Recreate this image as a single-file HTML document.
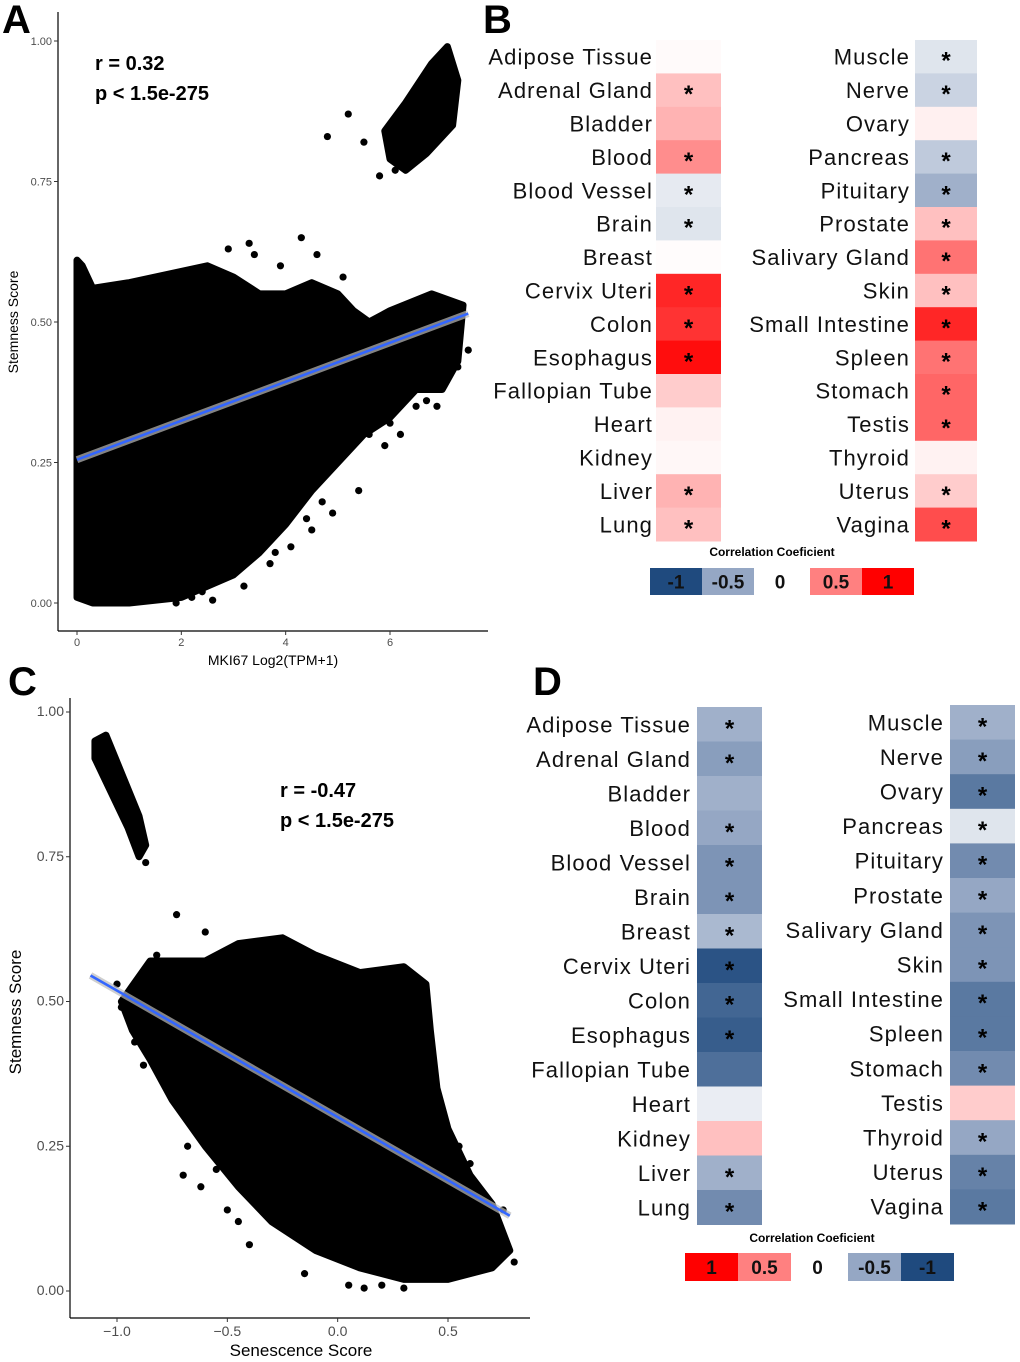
<!DOCTYPE html>
<html><head><meta charset="utf-8"><style>
body{margin:0;background:#fff;}
svg{display:block;font-family:"Liberation Sans",sans-serif;}
</style></head><body>
<svg id="fig" width="1020" height="1362" viewBox="0 0 1020 1362" xmlns="http://www.w3.org/2000/svg">
<text x="2" y="33" font-size="40" font-weight="bold">A</text>
<text x="483" y="33" font-size="40" font-weight="bold">B</text>
<text x="8" y="695" font-size="40" font-weight="bold">C</text>
<text x="533" y="695" font-size="40" font-weight="bold">D</text>
<g id="pa"></g>
<g id="pc"></g>
<g id="hb"></g>
<g id="hd"></g>
</svg>
<script>
// ---------- data: panel A ----------
const aXTicks=[0,2,4,6];
const aYTicks=[0,0.25,0.5,0.75,1];
const aCloudX=[0,0.1,0.3,1,1.5,2.5,3,3.5,4,4.5,5,5.3,5.6,6,6.8,7.4,7.3,7,6.5,6,5.5,5,4.5,4,3.5,3,2.5,2,1,0.3,0];
const aCloudY=[0.61,0.6,0.56,0.57,0.58,0.6,0.58,0.55,0.55,0.57,0.55,0.52,0.5,0.52,0.55,0.53,0.43,0.38,0.38,0.33,0.3,0.25,0.2,0.14,0.09,0.05,0.03,0.01,0.0,0.0,0.01];
const aTopX=[5.9,6.3,6.8,7.1,7.3,7.2,6.7,6.3,6.0];
const aTopY=[0.84,0.89,0.96,0.99,0.93,0.85,0.8,0.77,0.79];
const aOutX=[5.5,4.8,5.2,3.3,4.3,3.4,7.5,2.6,3.7,4.5,5.6,6,6.5,3.6,5.4,4.9,6.2,3.9,4.6,5.1,2.9,4.1,6.9,7.1,5.8,6.1,4.4,3.8,2.2,1.9,3.2,4.7,5.9,6.7,7.3,2.4];
const aOutY=[0.82,0.83,0.87,0.64,0.65,0.62,0.45,0.005,0.07,0.13,0.3,0.32,0.35,0.11,0.2,0.16,0.3,0.6,0.62,0.58,0.63,0.1,0.35,0.4,0.76,0.77,0.15,0.09,0.01,0.0,0.03,0.18,0.28,0.36,0.42,0.02];
const aFit=[0,0.255,7.5,0.515];
// ---------- data: panel C ----------
const cXTicks=[-1,-0.5,0,0.5];
const cXTickLabels=["\u22121.0","\u22120.5","0.0","0.5"];
const cYTicks=[0,0.25,0.5,0.75,1];
const cCloudX=[-0.98,-0.85,-0.6,-0.45,-0.25,-0.1,0.1,0.3,0.4,0.42,0.45,0.5,0.6,0.7,0.78,0.7,0.5,0.3,0.1,-0.1,-0.3,-0.45,-0.6,-0.75,-0.85,-0.93];
const cCloudY=[0.5,0.57,0.57,0.6,0.61,0.58,0.55,0.56,0.53,0.45,0.35,0.28,0.2,0.15,0.07,0.04,0.02,0.02,0.04,0.07,0.12,0.18,0.25,0.33,0.4,0.45];
const cTopX=[-1.1,-1.05,-0.9,-0.87,-0.9,-0.95,-1.05,-1.1];
const cTopY=[0.95,0.96,0.82,0.77,0.75,0.8,0.88,0.92];
const cOutX=[-0.87,-0.73,-0.6,-0.98,-1.0,0.5,0.8,-0.15,0.05,0.12,0.5,0.75,-0.82,-0.7,0.65,0.72,-0.4,0.55,-0.68,-0.62,-0.55,-0.5,-0.45,-0.88,-0.92,0.6,0.72,0.3,0.2];
const cOutY=[0.74,0.65,0.62,0.49,0.53,0.23,0.05,0.03,0.01,0.005,0.2,0.14,0.58,0.2,0.17,0.1,0.08,0.25,0.25,0.18,0.21,0.14,0.12,0.39,0.43,0.22,0.12,0.005,0.01];
const cFit=[-1.12,0.545,0.78,0.13];
// ---------- data: heatmaps ----------
const leftTissues=["Adipose Tissue","Adrenal Gland","Bladder","Blood","Blood Vessel","Brain","Breast","Cervix Uteri","Colon","Esophagus","Fallopian Tube","Heart","Kidney","Liver","Lung"];
const rightTissues=["Muscle","Nerve","Ovary","Pancreas","Pituitary","Prostate","Salivary Gland","Skin","Small Intestine","Spleen","Stomach","Testis","Thyroid","Uterus","Vagina"];
const bLeftVals=[0.02,0.25,0.3,0.45,-0.12,-0.15,0.01,0.85,0.8,0.95,0.2,0.05,0.03,0.3,0.25];
const bLeftSig=[0,1,0,1,1,1,0,1,1,1,0,0,0,1,1];
const bRightVals=[-0.15,-0.25,0.06,-0.3,-0.45,0.25,0.55,0.25,0.85,0.55,0.6,0.6,0.05,0.2,0.7];
const bRightSig=[1,1,0,1,1,1,1,1,1,1,1,1,0,1,1];
const dLeftVals=[-0.45,-0.55,-0.45,-0.5,-0.6,-0.6,-0.4,-0.95,-0.85,-0.9,-0.8,-0.1,0.25,-0.45,-0.65];
const dLeftSig=[1,1,0,1,1,1,1,1,1,1,0,0,0,1,1];
const dRightVals=[-0.45,-0.55,-0.75,-0.15,-0.65,-0.5,-0.6,-0.6,-0.75,-0.75,-0.65,0.2,-0.5,-0.7,-0.75];
const dRightSig=[1,1,1,1,1,1,1,1,1,1,1,0,1,1,1];
const bLegend=[-1,-0.5,0,0.5,1];
const dLegend=[1,0.5,0,-0.5,-1];

const NS="http://www.w3.org/2000/svg";
function el(tag,attrs,parent,txt){const e=document.createElementNS(NS,tag);for(const k in attrs)e.setAttribute(k,attrs[k]);if(txt!==undefined)e.textContent=txt;parent.appendChild(e);return e;}
function lin(d0,d1,r0,r1){return v=>r0+(v-d0)*(r1-r0)/(d1-d0);}
function mix(a,b,t){return a.map((v,i)=>Math.round(v+(b[i]-v)*t));}
function corrColor(v){
  const W=[255,255,255],LB=[149,167,196],DB=[31,74,126],LR=[255,128,128],R=[255,0,0];
  let c;
  if(v>=0){c=v<=0.5?mix(W,LR,v/0.5):mix(LR,R,(v-0.5)/0.5);}
  else{const a=-v;c=a<=0.5?mix(W,LB,a/0.5):mix(LB,DB,(a-0.5)/0.5);}
  return "rgb("+c.join(",")+")";
}

function scatter(g,cfg){
  const sx=lin(cfg.xd[0],cfg.xd[1],cfg.xr[0],cfg.xr[1]);
  const sy=lin(0,1,cfg.y0,cfg.y1);
  let ax=el("line",{x1:cfg.axX,y1:cfg.axTop,x2:cfg.axX,y2:cfg.axY,stroke:"#000","stroke-width":1.2},g);
  
  
  let bx=el("line",{x1:cfg.axX,y1:cfg.axY,x2:cfg.axRight,y2:cfg.axY,stroke:"#000","stroke-width":1.2},g);
  
  
  cfg.yTicks.forEach(t=>{
    const y=sy(t);
    el("line",{x1:cfg.axX-4,y1:y,x2:cfg.axX,y2:y,stroke:"#333"},g);
    const tl=el("text",{x:cfg.axX-6,y:y+4,"text-anchor":"end","font-size":cfg.tfs,fill:"#4d4d4d"},g,t.toFixed(2));
    
    
  });
  cfg.xTicks.forEach((t,i)=>{
    const x=sx(t);
    el("line",{x1:x,y1:cfg.axY,x2:x,y2:cfg.axY+4,stroke:"#333"},g);
    const tl=el("text",{x:x,y:cfg.axY+cfg.tfs+4,"text-anchor":"middle","font-size":cfg.tfs,fill:"#4d4d4d"},g,cfg.xLabels[i]);
    
    
  });
  [[cfg.cx,cfg.cy],[cfg.tx,cfg.ty]].forEach(([xs,ys])=>{
    const pts=xs.map((x,i)=>sx(x)+","+sy(ys[i])).join(" ");
    const p=el("polygon",{points:pts,fill:"#000",stroke:"#000","stroke-width":7,"stroke-linejoin":"round"},g);
    
    
  });
  cfg.ox.forEach((x,i)=>{
    const c=el("circle",{cx:sx(x),cy:sy(cfg.oy[i]),r:3.6,fill:"#000"},g);
    
    
  });
  const f=cfg.fit;
  el("line",{x1:sx(f[0]),y1:sy(f[1]),x2:sx(f[2]),y2:sy(f[3]),stroke:"#bbb","stroke-width":7,"stroke-opacity":0.7},g);
  const fl=el("line",{x1:sx(f[0]),y1:sy(f[1]),x2:sx(f[2]),y2:sy(f[3]),stroke:"#3366ff","stroke-width":2.6},g);
  
  
  const xt=el("text",{x:cfg.xtX,y:cfg.xtY,"text-anchor":"middle","font-size":cfg.lfs},g,cfg.xTitle);
  
  
  const yt=el("text",{x:0,y:0,"text-anchor":"middle","font-size":cfg.lfs,transform:"translate("+cfg.ytX+","+cfg.ytY+") rotate(-90)"},g,"Stemness Score");
  
  
  cfg.stats.forEach((s,i)=>{
    const t=el("text",{x:cfg.stX,y:cfg.stY+i*30,"font-size":20,"font-weight":"bold"},g,s);
    
    
  });
}

scatter(document.getElementById("pa"),{xd:[0,6],xr:[77,390],y0:603,y1:41,axX:58,axTop:12,axY:631,axRight:488,
  xTicks:aXTicks,xLabels:aXTicks.map(String),yTicks:aYTicks,tfs:11,lfs:14,
  cx:aCloudX,cy:aCloudY,tx:aTopX,ty:aTopY,ox:aOutX,oy:aOutY,fit:aFit,
  xTitle:"MKI67 Log2(TPM+1)",xtX:273,xtY:665,ytX:18,ytY:322,stats:["r = 0.32","p < 1.5e-275"],stX:95,stY:70});
scatter(document.getElementById("pc"),{xd:[-1,0.5],xr:[117,448],y0:1291,y1:712,axX:70,axTop:698,axY:1318,axRight:530,
  xTicks:cXTicks,xLabels:cXTickLabels,yTicks:cYTicks,tfs:14,lfs:17,
  cx:cCloudX,cy:cCloudY,tx:cTopX,ty:cTopY,ox:cOutX,oy:cOutY,fit:cFit,
  xTitle:"Senescence Score",xtX:301,xtY:1356,ytX:21,ytY:1012,stats:["r = -0.47","p < 1.5e-275"],stX:280,stY:797});

function heatCol(g,names,vals,sig,x0,w,y0,h,labelX){
  names.forEach((n,i)=>{
    const y=y0+i*h;
    const r=el("rect",{x:x0,y:y,width:w,height:h+0.5,fill:corrColor(vals[i])},g);
    
    
    const t=el("text",{x:labelX,y:y+h/2+8,"text-anchor":"end","font-size":22,"letter-spacing":"1.1",fill:"#111"},g,n);
    
    
    if(sig[i]){
      const s=el("text",{x:x0+w/2,y:y+h/2+12,"text-anchor":"middle","font-size":24,"font-weight":"bold"},g,"*");
      
      
    }
  });
}
function legend(g,vals,x0,w,y,h,titleX,titleY){
  const t=el("text",{x:titleX,y:titleY,"text-anchor":"middle","font-size":12,"font-weight":"bold"},g,"Correlation Coeficient");
  
  
  let x=x0;
  vals.forEach(v=>{
    const lbl=v===0?"0":String(v);
    if(v!==0){
      const r=el("rect",{x:x,y:y,width:w,height:h,fill:corrColor(v)},g);
      
      
    }
    const tx=el("text",{x:x+w/2,y:y+h/2+7,"text-anchor":"middle","font-size":19,"font-weight":"bold",fill:"#111"},g,lbl);
    
    
    x+=w+(v===0?4:0);
  });
}
const hb=document.getElementById("hb");
heatCol(hb,leftTissues,bLeftVals,bLeftSig,656,65,40,33.4,653);
heatCol(hb,rightTissues,bRightVals,bRightSig,915,62,40,33.4,910);
legend(hb,bLegend,650,52,568,27,772,556);
const hd=document.getElementById("hd");
heatCol(hd,leftTissues,dLeftVals,dLeftSig,697,65,707,34.5,691);
heatCol(hd,rightTissues,dRightVals,dRightSig,950,65,705,34.6,944);
legend(hd,dLegend,685,53,1253,28,812,1242);
</script>
</body></html>
